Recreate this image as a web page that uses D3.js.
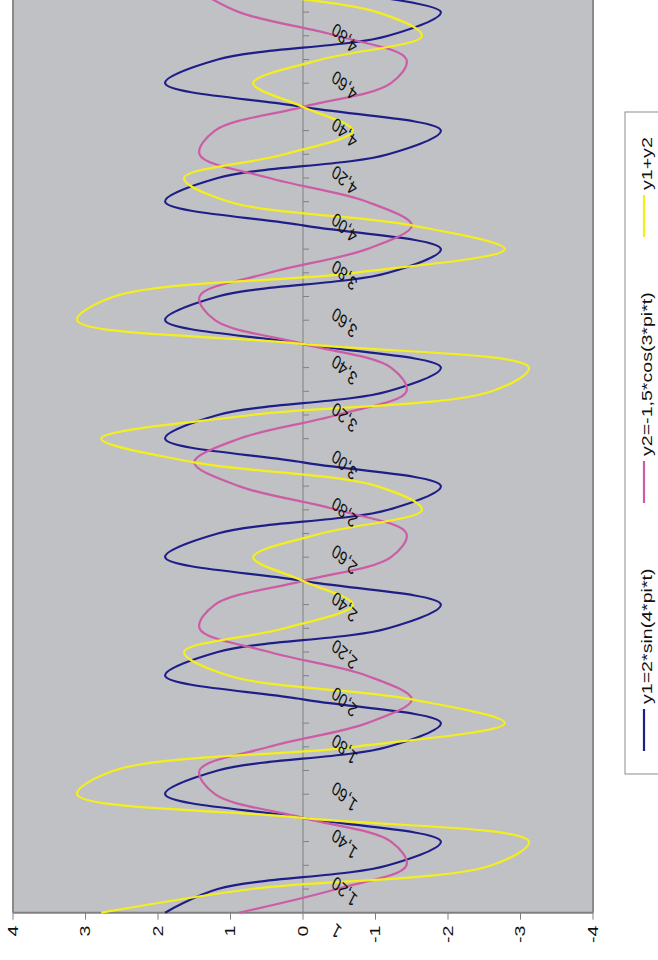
<!DOCTYPE html>
<html>
<head>
<meta charset="utf-8">
<script src="https://cdn.jsdelivr.net/npm/d3@7"></script>
<style>
  html, body { margin: 0; padding: 0; background: #ffffff; }
  svg { display: block; }
</style>
</head>
<body>
<svg id="chart" width="658" height="960"></svg>
<script>
// Sample points of t (step 0,1)
const tValues = [1.1, 1.2, 1.3, 1.4, 1.5, 1.6, 1.7, 1.8, 1.9, 2.0,
                 2.1, 2.2, 2.3, 2.4, 2.5, 2.6, 2.7, 2.8, 2.9, 3.0,
                 3.1, 3.2, 3.3, 3.4, 3.5, 3.6, 3.7, 3.8, 3.9, 4.0,
                 4.1, 4.2, 4.3, 4.4, 4.5, 4.6, 4.7, 4.8, 4.9, 5.0];

// y1 = 2*sin(4*pi*t)
const y1Values = [1.902, 1.176, -1.176, -1.902, 0, 1.902, 1.176, -1.176, -1.902, 0,
                  1.902, 1.176, -1.176, -1.902, 0, 1.902, 1.176, -1.176, -1.902, 0,
                  1.902, 1.176, -1.176, -1.902, 0, 1.902, 1.176, -1.176, -1.902, 0,
                  1.902, 1.176, -1.176, -1.902, 0, 1.902, 1.176, -1.176, -1.902, 0];

// y2 = -1,5*cos(3*pi*t)
const y2Values = [0.882, -0.464, -1.427, -1.214, 0, 1.214, 1.427, 0.464, -0.882, -1.5,
                  -0.882, 0.464, 1.427, 1.214, 0, -1.214, -1.427, -0.464, 0.882, 1.5,
                  0.882, -0.464, -1.427, -1.214, 0, 1.214, 1.427, 0.464, -0.882, -1.5,
                  -0.882, 0.464, 1.427, 1.214, 0, -1.214, -1.427, -0.464, 0.882, 1.5];

// y1 + y2
const sumValues = [2.784, 0.712, -2.603, -3.116, 0, 3.116, 2.603, -0.712, -2.784, -1.5,
                   1.020, 1.640, 0.251, -0.688, 0, 0.688, -0.251, -1.640, -1.020, 1.5,
                   2.784, 0.712, -2.603, -3.116, 0, 3.116, 2.603, -0.712, -2.784, -1.5,
                   1.020, 1.640, 0.251, -0.688, 0, 0.688, -0.251, -1.640, -1.020, 1.5];

const seriesNames = ["y1=2*sin(4*pi*t)", "y2=-1,5*cos(3*pi*t)", "y1+y2"];
const seriesColors = ["#1e1e88", "#cc5ca6", "#f4ef1c"];

// Category axis labels
const catTicks = [1.0, 1.2, 1.4, 1.6, 1.8, 2.0, 2.2, 2.4, 2.6, 2.8,
                  3.0, 3.2, 3.4, 3.6, 3.8, 4.0, 4.2, 4.4, 4.6, 4.8];
const catLabels = ["1", "1,20", "1,40", "1,60", "1,80", "2,00", "2,20", "2,40", "2,60", "2,80",
                   "3,00", "3,20", "3,40", "3,60", "3,80", "4,00", "4,20", "4,40", "4,60", "4,80"];

// Value axis labels
const valueTicks = [4, 3, 2, 1, 0, -1, -2, -3, -4];
const valueLabels = ["4", "3", "2", "1", "0", "-1", "-2", "-3", "-4"];

const series = [y1Values, y2Values, sumValues].map((vals, i) => ({
  name: seriesNames[i],
  color: seriesColors[i],
  points: tValues.map((t, j) => ({ t: t, v: vals[j] }))
}));

const FONT = "'Liberation Sans', Arial, sans-serif";
const STRETCH = 1.4;

const svg = d3.select("#chart");
// The chart is laid out landscape and turned a quarter turn counter-clockwise.
const g = svg.append("g").attr("transform", "translate(0,960) rotate(-90)");

const x = d3.scaleLinear().domain([1.1, 5.2]).range([47.3, 47.3 + 4.1 * 237]);
const y = d3.scaleLinear().domain([-4, 4]).range([593, 13]);

const [x0, x1] = x.range();
const [yBottom, yTop] = y.range();

// plot area
g.append("rect")
  .attr("x", x0).attr("y", yTop)
  .attr("width", x1 - x0).attr("height", yBottom - yTop)
  .attr("fill", "#c0c1c4");

g.append("line").attr("x1", x0).attr("x2", x1).attr("y1", yTop).attr("y2", yTop)
  .attr("stroke", "#8a8a8a").attr("stroke-width", 2);
g.append("line").attr("x1", x0).attr("x2", x1).attr("y1", yBottom).attr("y2", yBottom)
  .attr("stroke", "#8a8a8a").attr("stroke-width", 2);

// category axis along value 0
g.append("line")
  .attr("x1", x0).attr("x2", x1)
  .attr("y1", y(0)).attr("y2", y(0))
  .attr("stroke", "#808080").attr("stroke-width", 1);

g.append("g").selectAll("line")
  .data(tValues.slice(1))
  .join("line")
  .attr("x1", d => x(d)).attr("x2", d => x(d))
  .attr("y1", y(0)).attr("y2", y(0) + 6)
  .attr("stroke", "#808080").attr("stroke-width", 1);

// value axis
g.append("line")
  .attr("x1", x0).attr("x2", x0)
  .attr("y1", yTop).attr("y2", yBottom)
  .attr("stroke", "#808080").attr("stroke-width", 2);

g.append("g").selectAll("line")
  .data(valueTicks)
  .join("line")
  .attr("x1", x0).attr("x2", x0 - 7)
  .attr("y1", d => y(d)).attr("y2", d => y(d))
  .attr("stroke", "#808080").attr("stroke-width", 1);

g.append("g").selectAll("text")
  .data(valueTicks)
  .join("text")
  .attr("transform", d => `translate(${x0 - 13},${y(d)}) scale(${STRETCH},1)`)
  .attr("text-anchor", "end")
  .attr("dominant-baseline", "central")
  .attr("font-family", FONT)
  .attr("font-size", 14)
  .attr("fill", "#111")
  .text((d, i) => valueLabels[i]);

// series lines
const line = d3.line()
  .x(d => x(d.t))
  .y(d => y(d.v))
  .curve(d3.curveCatmullRom.alpha(0.5));

g.append("g").selectAll("path")
  .data(series)
  .join("path")
  .attr("d", d => line(d.points))
  .attr("fill", "none")
  .attr("stroke", d => d.color)
  .attr("stroke-width", 2.2)
  .attr("stroke-linejoin", "round");

// slanted category labels
g.append("g").selectAll("text")
  .data(catTicks)
  .join("text")
  .attr("transform", d => `translate(${x(d) + 14},${y(0) + 33}) scale(${STRETCH},1) rotate(-55)`)
  .attr("text-anchor", "end")
  .attr("font-family", FONT)
  .attr("font-size", 14)
  .attr("fill", "#111")
  .text((d, i) => catLabels[i]);

// legend
const legend = g.append("g");
legend.append("rect")
  .attr("x", 186).attr("y", 625)
  .attr("width", 662).attr("height", 60)
  .attr("fill", "#ffffff")
  .attr("stroke", "#8c8c8c").attr("stroke-width", 1);

const legendStart = [209, 457, 723];
const items = legend.selectAll("g.item")
  .data(series)
  .join("g")
  .attr("class", "item")
  .attr("transform", (d, i) => `translate(${legendStart[i]},0)`);

items.append("line")
  .attr("x1", 0).attr("x2", 42)
  .attr("y1", 644).attr("y2", 644)
  .attr("stroke", d => d.color).attr("stroke-width", 2.2);

items.append("text")
  .attr("transform", `translate(47,652) scale(${STRETCH},1)`)
  .attr("font-family", FONT)
  .attr("font-size", 14)
  .attr("fill", "#111")
  .text(d => d.name);
</script>
</body>
</html>
